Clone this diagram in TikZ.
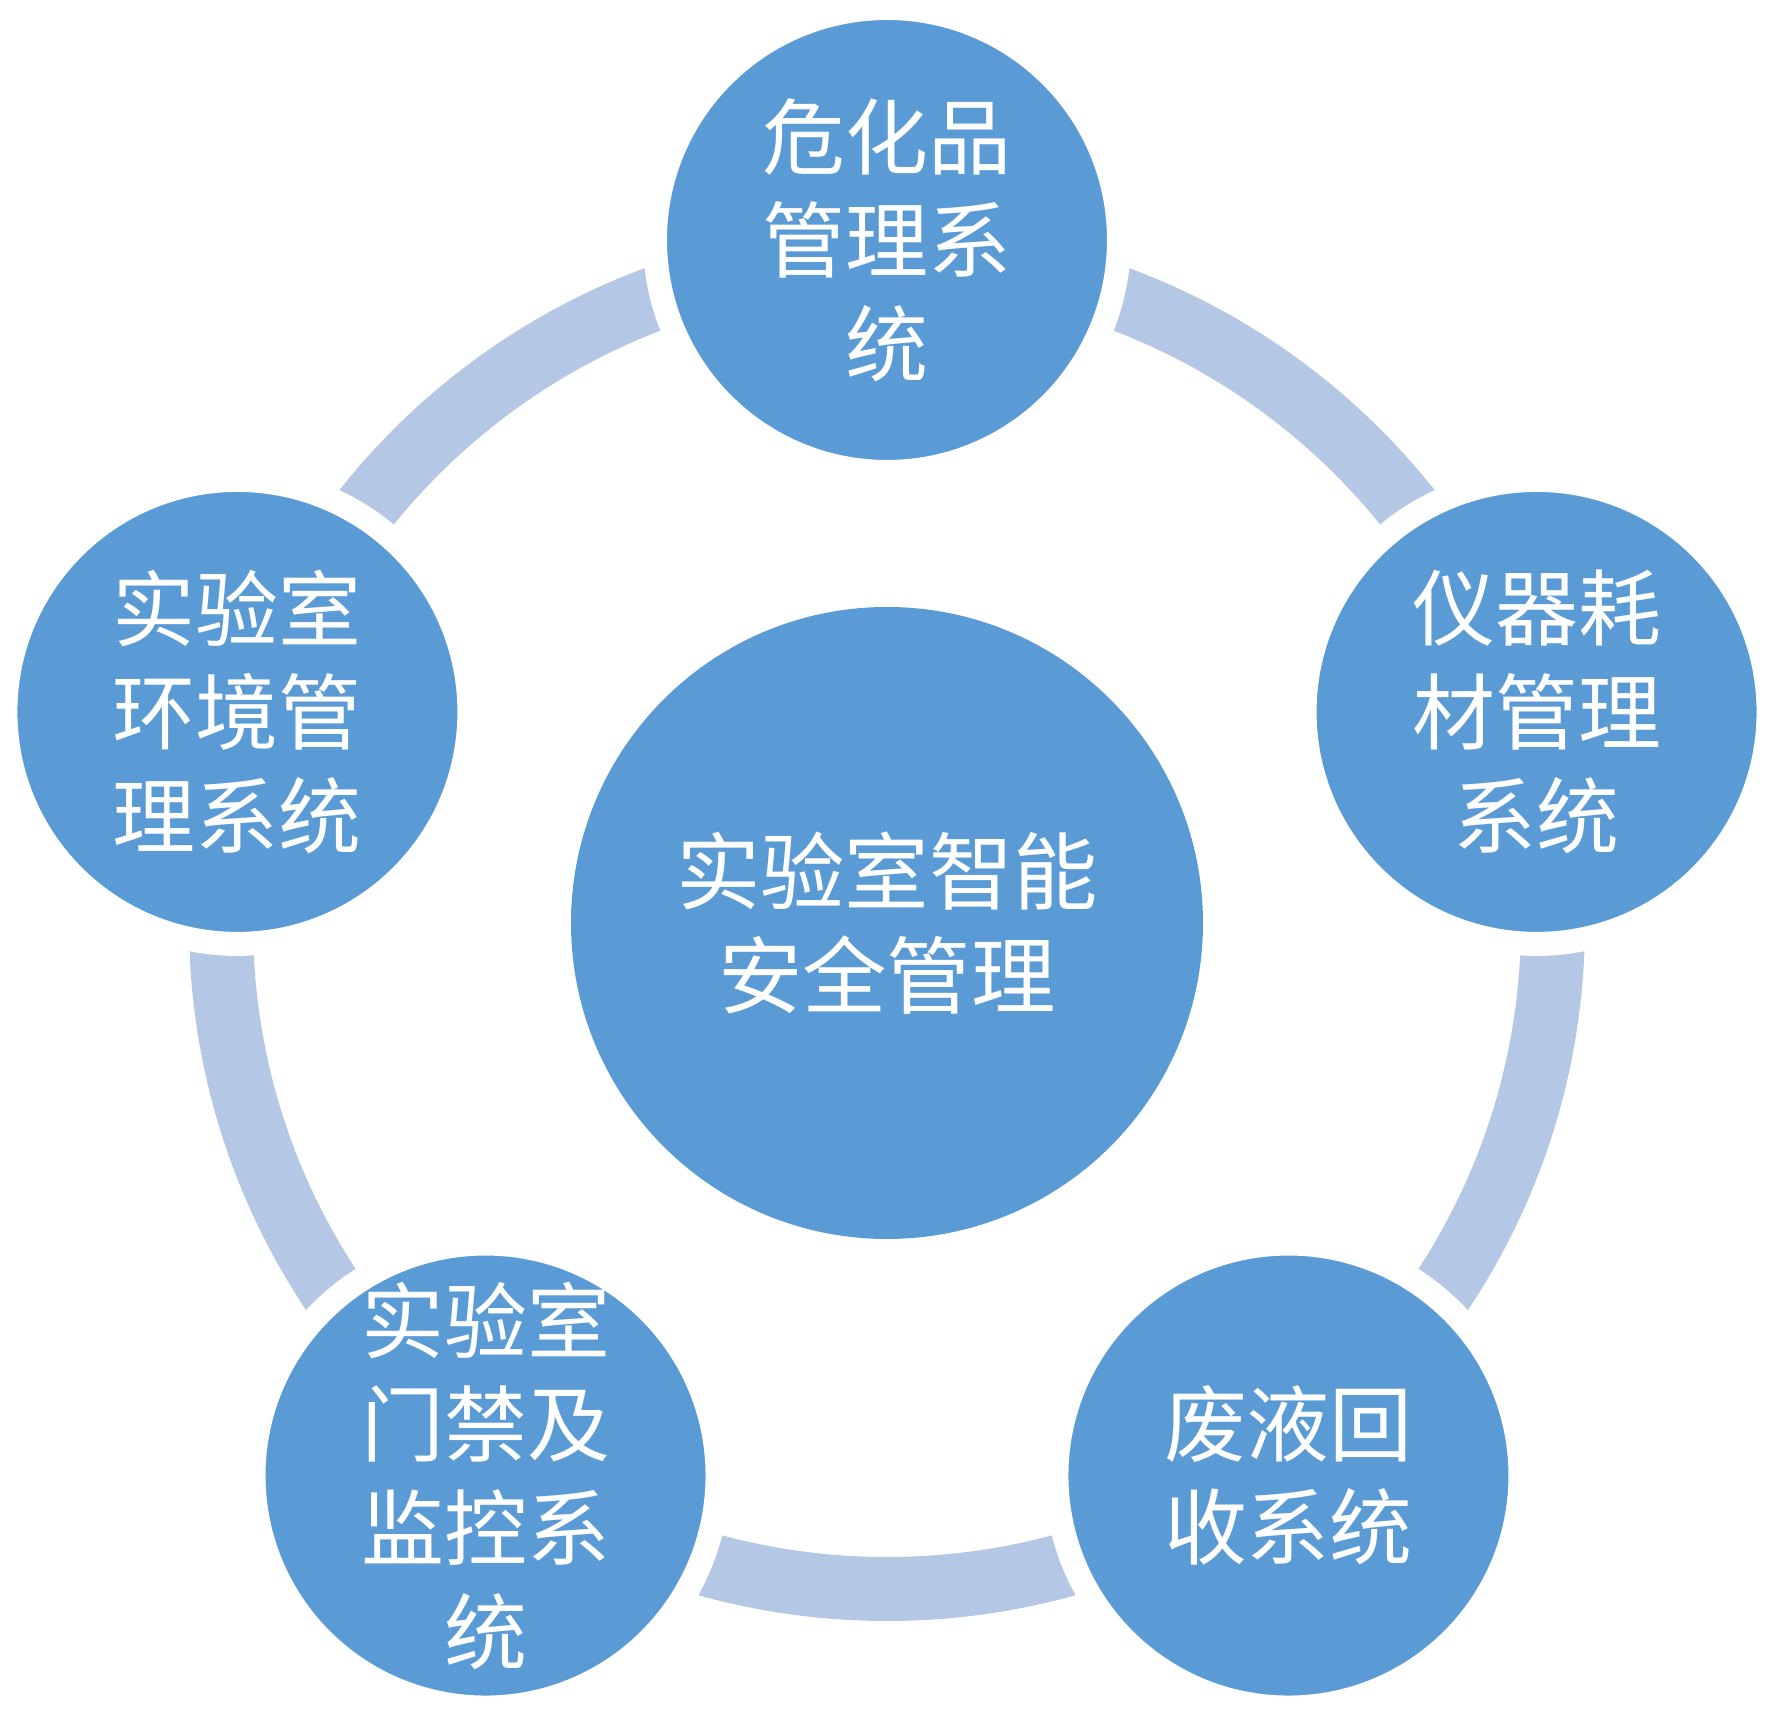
\documentclass[tikz,border=0pt]{standalone}
\usepackage{fontspec}
\newfontfamily\cjk{Noto Sans CJK SC}
\usepackage{tikz}
\usetikzlibrary{positioning, calc}
\definecolor{myblue}{RGB}{91,155,213}
\definecolor{mylight}{RGB}{180,200,229}
\tikzset{
  hubnode/.style={circle, fill=myblue, minimum size=6.32cm, inner sep=0pt,
    align=center, text=white, font=\cjk\fontsize{24}{29.5}\selectfont},
  sysnode/.style={circle, fill=myblue, draw=white, line width=0.24cm,
    minimum size=4.64cm, inner sep=0pt, align=center, text=white,
    font=\cjk\fontsize{23.6}{29.5}\selectfont},
  ring/.style={line width=0.64cm, color=mylight}
}
\begin{document}
\begin{tikzpicture}
  \useasboundingbox (-8.87,-7.90) rectangle (8.85,9.23);

  % Hub
  \node[hubnode] (hub) at (0,0) {实验室智能\\安全管理};

  % Ring behind the subsystems
  \draw[ring] (hub.center) circle[radius=6.66];

  % Subsystems
  \node[sysnode] (chem) at ($(hub)+(90:6.83)$) {危化品\\管理系\\统};
  \node[sysnode] (inst) at ($(hub)+(18:6.83)$) {仪器耗\\材管理\\系统};
  \node[sysnode] (waste) at ($(hub)+(-54:6.83)$) {废液回\\收系统};
  \node[sysnode] (door) at ($(hub)+(234:6.83)$) {实验室\\门禁及\\监控系\\统};
  \node[sysnode] (env) at ($(hub)+(162:6.83)$) {实验室\\环境管\\理系统};
\end{tikzpicture}
\end{document}
